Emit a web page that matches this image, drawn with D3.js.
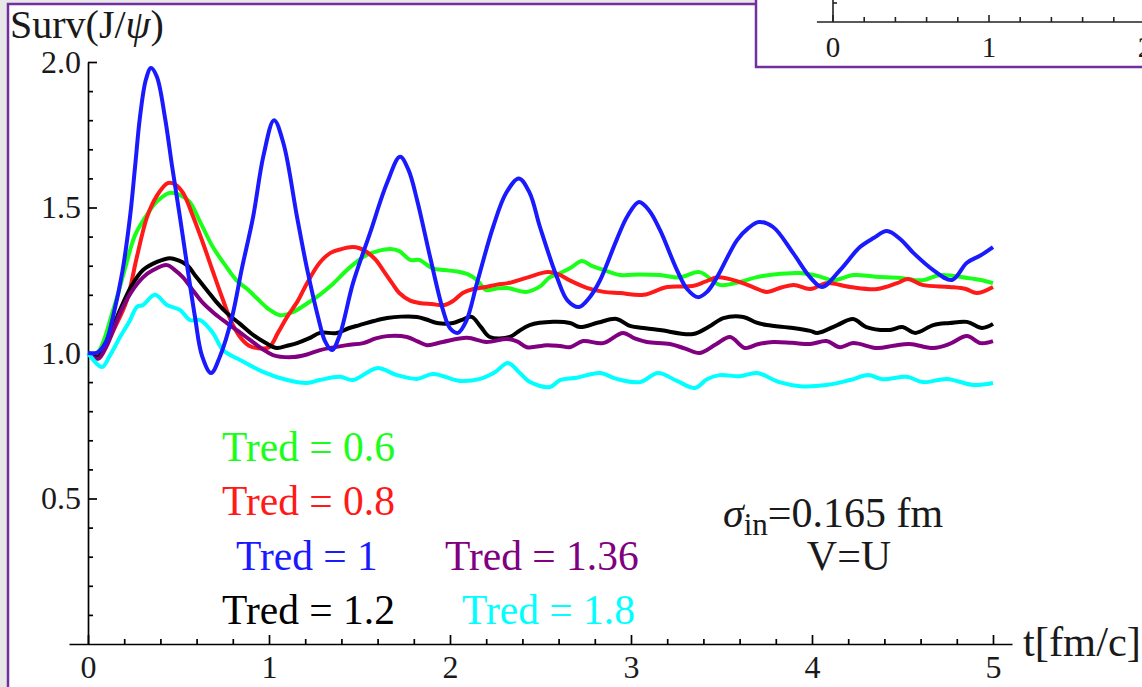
<!DOCTYPE html>
<html>
<head>
<meta charset="utf-8">
<script src="https://cdn.jsdelivr.net/npm/d3@7"></script>
<style>
  html, body { margin: 0; padding: 0; background: #e8e8e8; }
  svg { display: block; }
  text { font-family: "Liberation Serif", "Times New Roman", serif; }
</style>
</head>
<body>
<svg id="chart" width="1142" height="687"></svg>
<script>
// survival ratio vs time, one array of [t, value] per Tred
const tred06 = [[0,1.0],[0.05,1.0],[0.14,1.15],[0.2,1.28],[0.26,1.405],[0.32,1.47],[0.38,1.52],[0.45,1.55],[0.5,1.545],[0.56,1.52],[0.62,1.45],[0.69,1.364],[0.76,1.30],[0.82,1.25],[0.88,1.22],[0.93,1.19],[1.0,1.15],[1.06,1.13],[1.13,1.14],[1.21,1.17],[1.28,1.20],[1.34,1.23],[1.45,1.296],[1.54,1.337],[1.6,1.35],[1.67,1.357],[1.72,1.35],[1.78,1.32],[1.83,1.32],[1.9,1.292],[1.97,1.285],[2.04,1.28],[2.1,1.27],[2.15,1.25],[2.2,1.216],[2.26,1.222],[2.32,1.223],[2.42,1.21],[2.5,1.23],[2.55,1.26],[2.61,1.275],[2.66,1.29],[2.73,1.316],[2.78,1.30],[2.85,1.285],[2.94,1.268],[3.05,1.27],[3.16,1.268],[3.27,1.26],[3.38,1.278],[3.49,1.234],[3.6,1.244],[3.69,1.26],[3.79,1.27],[3.93,1.275],[4.03,1.265],[4.12,1.25],[4.23,1.268],[4.35,1.262],[4.49,1.258],[4.61,1.25],[4.71,1.268],[4.86,1.258],[4.94,1.25],[5.0,1.24]]
const tred08 = [[0,1.0],[0.05,0.99],[0.1,1.03],[0.15,1.09],[0.215,1.182],[0.27,1.33],[0.326,1.467],[0.38,1.54],[0.44,1.584],[0.48,1.58],[0.525,1.55],[0.58,1.47],[0.635,1.378],[0.69,1.28],[0.746,1.182],[0.79,1.11],[0.84,1.055],[0.89,1.025],[0.934,1.017],[1.0,1.02],[1.05,1.07],[1.1,1.124],[1.16,1.18],[1.21,1.24],[1.28,1.31],[1.34,1.344],[1.4,1.357],[1.46,1.364],[1.5,1.36],[1.54,1.347],[1.59,1.32],[1.63,1.285],[1.68,1.24],[1.72,1.206],[1.78,1.18],[1.83,1.172],[1.9,1.168],[1.97,1.165],[2.02,1.18],[2.07,1.206],[2.13,1.22],[2.2,1.227],[2.26,1.235],[2.32,1.24],[2.43,1.26],[2.54,1.278],[2.6,1.27],[2.66,1.25],[2.76,1.223],[2.85,1.21],[2.94,1.206],[3.07,1.2],[3.2,1.227],[3.34,1.23],[3.41,1.245],[3.48,1.26],[3.6,1.244],[3.68,1.225],[3.75,1.21],[3.83,1.225],[3.9,1.234],[3.99,1.22],[4.08,1.24],[4.21,1.227],[4.36,1.22],[4.47,1.24],[4.53,1.254],[4.61,1.234],[4.76,1.227],[4.85,1.22],[4.91,1.206],[5.0,1.227]]
const tred10 = [[0,1.0],[0.055,1.003],[0.1,1.04],[0.138,1.124],[0.19,1.28],[0.232,1.467],[0.26,1.64],[0.287,1.81],[0.32,1.94],[0.348,1.979],[0.38,1.95],[0.425,1.81],[0.465,1.64],[0.508,1.467],[0.55,1.29],[0.591,1.124],[0.63,0.99],[0.68,0.931],[0.73,0.99],[0.796,1.124],[0.85,1.29],[0.912,1.467],[0.97,1.68],[1.028,1.80],[1.08,1.72],[1.155,1.467],[1.21,1.29],[1.271,1.124],[1.31,1.04],[1.348,1.01],[1.39,1.06],[1.464,1.24],[1.558,1.412],[1.652,1.584],[1.724,1.674],[1.77,1.63],[1.818,1.526],[1.89,1.33],[1.961,1.148],[2.0,1.085],[2.044,1.069],[2.09,1.11],[2.149,1.24],[2.238,1.433],[2.31,1.55],[2.381,1.60],[2.44,1.55],[2.497,1.433],[2.591,1.26],[2.65,1.18],[2.713,1.158],[2.77,1.19],[2.829,1.25],[2.92,1.388],[2.98,1.47],[3.044,1.519],[3.1,1.49],[3.16,1.423],[3.254,1.285],[3.31,1.22],[3.37,1.192],[3.42,1.21],[3.475,1.26],[3.586,1.388],[3.65,1.43],[3.707,1.45],[3.785,1.433],[3.895,1.344],[3.99,1.26],[4.055,1.227],[4.155,1.285],[4.265,1.364],[4.34,1.395],[4.414,1.419],[4.49,1.39],[4.56,1.344],[4.67,1.285],[4.773,1.251],[4.856,1.31],[4.93,1.335],[5.0,1.364]]
const tred12 = [[0,1.0],[0.055,0.986],[0.1,1.03],[0.177,1.148],[0.24,1.23],[0.304,1.285],[0.381,1.313],[0.453,1.326],[0.5,1.318],[0.547,1.302],[0.6,1.26],[0.657,1.216],[0.71,1.175],[0.768,1.137],[0.84,1.10],[0.912,1.062],[0.98,1.035],[1.044,1.017],[1.1,1.025],[1.155,1.034],[1.22,1.05],[1.282,1.069],[1.375,1.069],[1.44,1.085],[1.5,1.096],[1.58,1.11],[1.652,1.12],[1.73,1.125],[1.818,1.124],[1.87,1.115],[1.928,1.103],[2.017,1.103],[2.07,1.115],[2.12,1.124],[2.17,1.09],[2.22,1.055],[2.33,1.055],[2.38,1.075],[2.44,1.096],[2.57,1.107],[2.663,1.103],[2.718,1.089],[2.82,1.105],[2.92,1.117],[2.994,1.093],[3.08,1.085],[3.16,1.079],[3.343,1.065],[3.43,1.09],[3.51,1.12],[3.62,1.124],[3.69,1.105],[3.75,1.096],[3.895,1.086],[3.99,1.076],[4.03,1.069],[4.14,1.096],[4.227,1.117],[4.3,1.089],[4.43,1.079],[4.5,1.089],[4.57,1.069],[4.67,1.096],[4.76,1.103],[4.856,1.107],[4.94,1.086],[5.0,1.1]]
const tred136 = [[0,1.0],[0.055,0.98],[0.1,1.02],[0.177,1.137],[0.24,1.21],[0.304,1.26],[0.36,1.285],[0.436,1.302],[0.48,1.285],[0.525,1.26],[0.58,1.215],[0.635,1.172],[0.7,1.135],[0.768,1.103],[0.83,1.075],[0.895,1.045],[0.96,1.015],[1.022,0.993],[1.133,0.986],[1.21,0.995],[1.282,1.01],[1.43,1.027],[1.52,1.034],[1.59,1.05],[1.652,1.058],[1.762,1.055],[1.82,1.04],[1.873,1.027],[1.96,1.038],[2.094,1.052],[2.2,1.038],[2.315,1.048],[2.37,1.04],[2.425,1.02],[2.536,1.027],[2.608,1.024],[2.663,1.02],[2.735,1.041],[2.845,1.034],[2.956,1.069],[3.02,1.05],[3.088,1.038],[3.215,1.031],[3.3,1.015],[3.38,1.0],[3.47,1.03],[3.547,1.055],[3.63,1.017],[3.7,1.03],[3.785,1.038],[3.89,1.035],[3.99,1.031],[4.08,1.041],[4.155,1.02],[4.227,1.034],[4.36,1.017],[4.45,1.025],[4.54,1.031],[4.67,1.017],[4.76,1.031],[4.856,1.058],[4.93,1.034],[5.0,1.041]]
const tred18 = [[0,1.0],[0.077,0.952],[0.12,0.99],[0.177,1.055],[0.23,1.11],[0.27,1.158],[0.304,1.165],[0.37,1.2],[0.436,1.165],[0.508,1.148],[0.564,1.113],[0.619,1.113],[0.69,1.069],[0.746,1.01],[0.84,0.976],[0.967,0.935],[1.1,0.907],[1.21,0.897],[1.28,0.907],[1.392,0.918],[1.464,0.907],[1.597,0.948],[1.707,0.924],[1.818,0.911],[1.906,0.928],[2.055,0.904],[2.166,0.911],[2.25,0.935],[2.32,0.966],[2.38,0.935],[2.442,0.90],[2.552,0.883],[2.608,0.907],[2.7,0.915],[2.829,0.931],[2.92,0.911],[3.05,0.90],[3.15,0.931],[3.254,0.904],[3.354,0.88],[3.42,0.91],[3.49,0.924],[3.6,0.92],[3.696,0.931],[3.82,0.90],[3.934,0.886],[4.08,0.89],[4.21,0.907],[4.31,0.924],[4.39,0.91],[4.525,0.918],[4.613,0.90],[4.746,0.911],[4.89,0.89],[5.0,0.897]]

const seriesNames = ['Tred = 0.6', 'Tred = 0.8', 'Tred = 1', 'Tred = 1.2', 'Tred = 1.36', 'Tred = 1.8']
const seriesColors = ['#1aff1a', '#ff1a1a', '#1a1aff', '#000000', '#800080', '#00ffff']
const seriesData = [tred06, tred08, tred10, tred12, tred136, tred18]
const drawOrder = [0, 1, 3, 4, 5, 2]

const xMajor = [0, 1, 2, 3, 4, 5]
const yMajor = [0.5, 1.0, 1.5, 2.0]
const insetMajor = [0, 1, 2]

let svg = d3.select('#chart')
let font = '"Liberation Serif", "Times New Roman", serif'

// page frame
svg.append('rect').attr('x', 0).attr('y', 0).attr('width', 1142).attr('height', 687).attr('fill', '#e8e8e8')
svg.append('rect')
	.attr('x', 8).attr('y', 4).attr('width', 1160).attr('height', 720)
	.attr('fill', 'white').attr('stroke', '#7030a0').attr('stroke-width', 2.5)

let x = d3.scaleLinear().domain([-0.105, 5.105]).range([69, 1012])
let y = d3.scaleLinear().domain([0, 2]).range([644, 62])

let minorX = d3.range(0, 5.01, 0.2).filter(d => Math.abs(d - Math.round(d)) > 1e-6)
let minorY = d3.range(0.1, 2.01, 0.1).filter(d => Math.abs(d*2 - Math.round(d*2)) > 1e-6)

// x axis
let gx = svg.append('g').attr('transform', `translate(0,${y(0)})`)
gx.call(d3.axisBottom(x).tickValues(xMajor).tickSize(-9).tickSizeOuter(0).tickPadding(11).tickFormat(d3.format('d')))
gx.append('g').call(d3.axisBottom(x).tickValues(minorX).tickSize(-5).tickSizeOuter(0).tickFormat(''))
	.select('.domain').remove()

// y axis
let gy = svg.append('g').attr('transform', `translate(${x(0)},0)`)
gy.call(d3.axisLeft(y).tickValues(yMajor).tickSize(-9).tickSizeOuter(0).tickPadding(7).tickFormat(d3.format('.1f')))
gy.append('g').call(d3.axisLeft(y).tickValues(minorY).tickSize(-5).tickSizeOuter(0).tickFormat(''))
	.select('.domain').remove()

svg.selectAll('.domain, .tick line').attr('stroke', '#000').attr('stroke-width', 1.7)
svg.selectAll('.tick text').attr('fill', '#1a1a1a').style('font-family', font).style('font-size', '32px')

// lines
let line = d3.line().x(d => x(d[0])).y(d => y(d[1])).curve(d3.curveCatmullRom.alpha(0.5))
let gLines = svg.append('g')
drawOrder.forEach(i => {
	gLines.append('path')
		.attr('d', line(seriesData[i]))
		.attr('fill', 'none')
		.attr('stroke', seriesColors[i])
		.attr('stroke-width', 4)
		.attr('stroke-linejoin', 'round')
})

// axis titles
let yTitle = svg.append('text').attr('x', 10).attr('y', 38)
	.style('font-size', '40px').attr('fill', '#1a1a1a')
yTitle.append('tspan').text('Surv(J/')
yTitle.append('tspan').style('font-style', 'italic').text('ψ')
yTitle.append('tspan').text(')')

svg.append('text').attr('x', 1023).attr('y', 656)
	.style('font-size', '42.5px').attr('fill', '#1a1a1a').text('t[fm/c]')

// series labels
const labelPos = [[222, 461], [222, 515], [236, 570], [222, 624], [445, 570], [462, 624]]
seriesNames.forEach((n, i) => {
	svg.append('text')
		.attr('x', labelPos[i][0]).attr('y', labelPos[i][1])
		.style('font-size', '41.5px')
		.attr('fill', seriesColors[i])
		.text(n)
})

// annotation
let sig = svg.append('text').attr('x', 723).attr('y', 527).style('font-size', '42px').attr('fill', '#1a1a1a')
sig.append('tspan').style('font-style', 'italic').text('σ')
sig.append('tspan').attr('dy', 8).style('font-size', '31px').text('in')
sig.append('tspan').attr('dy', -8).text('=0.165 fm')
svg.append('text').attr('x', 849).attr('y', 570).attr('text-anchor', 'middle')
	.style('font-size', '42px').attr('fill', '#1a1a1a').text('V=U')

// inset panel in top right corner
svg.append('rect')
	.attr('x', 756).attr('y', -20).attr('width', 420).attr('height', 87)
	.attr('fill', 'white').attr('stroke', '#7030a0').attr('stroke-width', 2.5)
let xi = d3.scaleLinear().domain([0, 1]).range([833, 989])
let insetLine = svg.append('g')
insetLine.append('line')
	.attr('x1', xi(-0.103)).attr('x2', 1160).attr('y1', 22).attr('y2', 22)
	.attr('stroke', '#222').attr('stroke-width', 1.6)
insetLine.append('line')
	.attr('x1', xi(0)).attr('x2', xi(0)).attr('y1', -2).attr('y2', 22)
	.attr('stroke', '#222').attr('stroke-width', 1.6)
insetLine.append('line')
	.attr('x1', xi(0)).attr('x2', xi(0) + 4).attr('y1', 3).attr('y2', 3)
	.attr('stroke', '#222').attr('stroke-width', 1.6)
let insetMinor = d3.range(0.2, 2.2, 0.2).filter(d => Math.abs(d - Math.round(d)) > 1e-6)
insetLine.selectAll('.imin').data(insetMinor).join('line')
	.attr('x1', d => xi(d)).attr('x2', d => xi(d)).attr('y1', 17).attr('y2', 22)
	.attr('stroke', '#222').attr('stroke-width', 1.6)
insetLine.selectAll('.imaj').data(insetMajor).join('line')
	.attr('x1', d => xi(d)).attr('x2', d => xi(d)).attr('y1', 15).attr('y2', 22)
	.attr('stroke', '#222').attr('stroke-width', 1.6)
insetLine.selectAll('text').data(insetMajor).join('text')
	.attr('x', d => xi(d)).attr('y', 57).attr('text-anchor', 'middle')
	.style('font-size', '29px').attr('fill', '#1a1a1a')
	.text(d => d)
</script>
</body>
</html>
